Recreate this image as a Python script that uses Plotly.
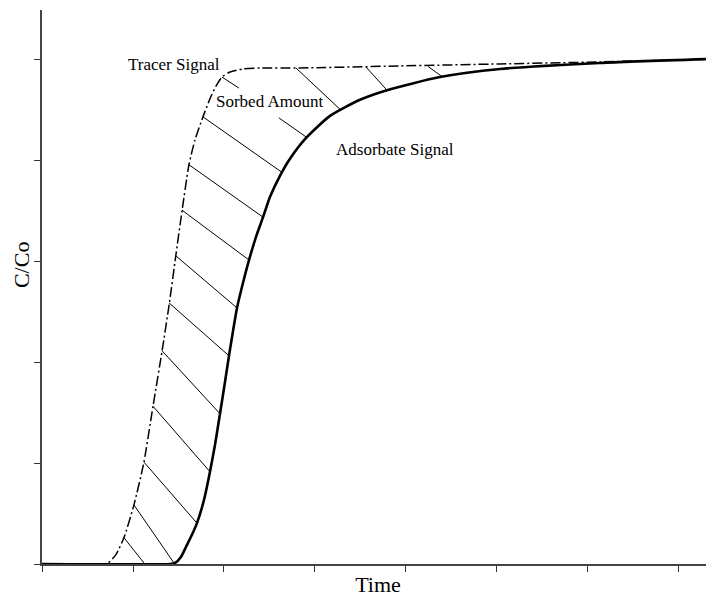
import plotly.graph_objects as go

# ---- data ----
tracer_x = [0, 0.67, 0.725, 0.81, 0.90, 1.01, 1.12, 1.22, 1.32, 1.40, 1.47, 1.54, 1.615, 1.681,
            1.769, 1.846, 1.912, 1.978, 2.066, 2.209, 2.40, 2.84, 3.93, 5.03, 6.13, 7.385]
tracer_y = [0, 0, 0.002, 0.018, 0.052, 0.117, 0.202, 0.313, 0.423, 0.518, 0.611, 0.702, 0.792,
            0.841, 0.887, 0.923, 0.948, 0.966, 0.976, 0.982, 0.984, 0.984, 0.988, 0.992, 0.996, 1.002]

adsorbate_x = [0, 1.407, 1.462, 1.527, 1.593, 1.648, 1.703, 1.780, 1.846, 1.901, 1.956, 2.011,
               2.055, 2.099, 2.143, 2.209, 2.275, 2.352, 2.429, 2.505, 2.615, 2.725, 2.890,
               3.165, 3.495, 3.791, 4.374, 5.033, 6.132, 7.385]
adsorbate_y = [0, 0, 0.002, 0.014, 0.038, 0.058, 0.081, 0.127, 0.183, 0.236, 0.298, 0.361,
               0.413, 0.462, 0.508, 0.558, 0.603, 0.649, 0.688, 0.728, 0.770, 0.804, 0.843,
               0.889, 0.921, 0.940, 0.966, 0.982, 0.994, 1.002]

# hatch segments for the sorbed amount (start on tracer, end on adsorbate)
hatch_x0 = [0.901, 1.011, 1.121, 1.220, 1.319, 1.396, 1.473, 1.538, 1.615, 1.769, 1.978, 2.604, 2.791, 3.560, 4.242]
hatch_y0 = [0.052, 0.117, 0.202, 0.313, 0.423, 0.518, 0.611, 0.702, 0.792, 0.887, 0.966, 0.885, 0.984, 0.986, 0.987]
hatch_x1 = [1.121, 1.451, 1.703, 1.846, 1.956, 2.055, 2.143, 2.275, 2.429, 2.637, 2.165, 2.912, 3.275, 3.791, 4.396]
hatch_y1 = [0.002, 0.002, 0.081, 0.183, 0.298, 0.413, 0.508, 0.603, 0.688, 0.777, 0.944, 0.846, 0.902, 0.940, 0.967]

x_ticks = [0, 1, 2, 3, 4, 5, 6, 7]
y_ticks = [0, 0.2, 0.4, 0.6, 0.8, 1.0]

labels = ["Tracer Signal", "Sorbed Amount", "Adsorbate Signal"]
label_x = [1.45, 2.495, 3.88]
label_y = [0.990, 0.917, 0.823]

x_title = "Time"
y_title = "C/Co"
y_title_pos = 0.593

FONT = "Liberation Serif, Times New Roman, serif"

hx, hy = [], []
for a, b, c, d in zip(hatch_x0, hatch_y0, hatch_x1, hatch_y1):
    hx += [a, c, None]
    hy += [b, d, None]

fig = go.Figure()
fig.add_trace(go.Scatter(x=hx, y=hy, mode="lines", line=dict(color="black", width=1),
                         hoverinfo="skip", showlegend=False))
fig.add_trace(go.Scatter(x=tracer_x, y=tracer_y, mode="lines", name="Tracer Signal",
                         line=dict(color="black", width=1.5, dash="10px,3px,2px,3px",
                                   shape="spline", smoothing=0.6),
                         showlegend=False))
fig.add_trace(go.Scatter(x=adsorbate_x, y=adsorbate_y, mode="lines", name="Adsorbate Signal",
                         line=dict(color="black", width=2.6, shape="spline", smoothing=0.6),
                         showlegend=False))

for t, x, y in zip(labels, label_x, label_y):
    fig.add_annotation(x=x, y=y, text=t, showarrow=False, xanchor="center", yanchor="middle",
                       font=dict(family=FONT, size=17, color="black"))

# y-axis title, placed where the reference has it (level with the 0.6 tick)
fig.add_annotation(xref="paper", x=0, yref="y", y=y_title_pos, text=y_title, textangle=-90,
                   showarrow=False, xanchor="center", yanchor="middle", xshift=-21,
                   font=dict(family=FONT, size=22, color="black"))

axis_common = dict(showgrid=False, zeroline=False, showticklabels=False, ticks="outside",
                   ticklen=6, tickwidth=1.3, tickcolor="#333333", showline=True,
                   linecolor="#444444", linewidth=1.5, mirror=False, automargin=False)

fig.update_xaxes(range=[0, 7.385], tickvals=x_ticks, **axis_common,
                 title=dict(text=x_title, font=dict(family=FONT, size=22, color="black"), standoff=6))
fig.update_yaxes(range=[0, 1.099], tickvals=y_ticks, **axis_common)

# the page body has an 8px default margin, so the figure is sized to sit inside the window
fig.update_layout(width=706, height=589, plot_bgcolor="white", paper_bgcolor="white",
                  margin=dict(l=34, r=0, t=2, b=33), showlegend=False)

fig.write_html("out.html")
